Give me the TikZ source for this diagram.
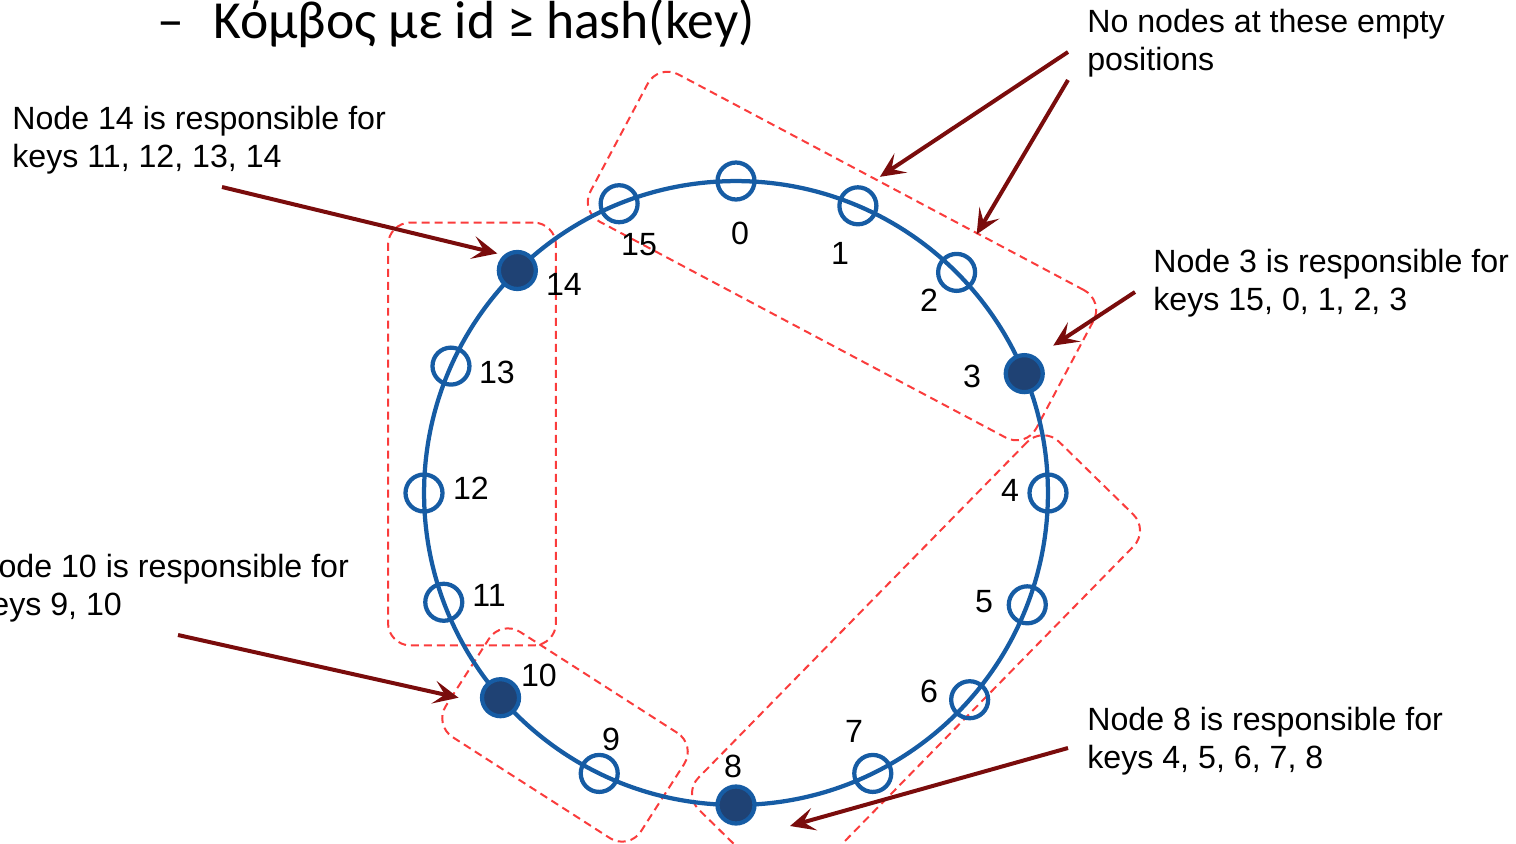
\documentclass[tikz,border=0pt]{standalone}
\usepackage{fontspec}
\setmainfont{Liberation Sans}
\newfontfamily\titlefont{Carlito}
\usetikzlibrary{arrows.meta,calc}

\definecolor{ringblue}{RGB}{22,92,164}
\definecolor{peerfill}{RGB}{31,66,116}
\definecolor{grpred}{RGB}{250,60,60}
\definecolor{arrred}{RGB}{122,12,12}
\newcommand{\notesize}{\fontsize{18.3}{21.6}\selectfont}

\tikzset{
  keypos/.style={circle, draw=ringblue, line width=0.085cm, minimum size=0.74cm, inner sep=0pt},
  peer/.style={keypos, fill=peerfill},
  keynum/.style={inner sep=0pt, font=\notesize},
  note/.style={anchor=north west, inner sep=0pt, align=left, font=\notesize},
  grpbox/.style={draw=grpred, line width=0.04cm, dash pattern=on 0.16cm off 0.1cm, rounded corners=0.45cm, inner sep=0pt},
  arr/.style={draw=arrred, line width=0.08cm, -{Stealth[length=0.5cm, width=0.46cm, inset=0.22cm]}}
}

\begin{document}
\begin{tikzpicture}[x=0.02cm, y=-0.02cm]
            \useasboundingbox (0,0) rectangle (1516,843);
            \clip (0,0) rectangle (1516,843);

            \node[anchor=base west, inner sep=0pt, font=\titlefont\fontsize{30.5}{36}\selectfont] (title) at (157,38) {–\hspace{0.6cm}Κόμβος με id ≥ hash(key)};

            \node[grpbox, minimum width=10.1cm, minimum height=3.34cm, rotate=-28] (grp3) at (842,256) {};
            \node[grpbox, minimum width=3.36cm, minimum height=8.46cm] (grp14) at (472,434) {};
            \node[grpbox, minimum width=4.64cm, minimum height=2.5cm, rotate=-32.7] (grp10) at (565,735) {};
            \node[grpbox, minimum width=10.3cm, minimum height=2.98cm, rotate=45.6] (grp8) at (916,662) {};

            \coordinate (ctr) at (736,493);
            \draw[ringblue, line width=0.085cm] (ctr) circle[radius=6.24cm];

            \foreach \i/\a in {0/-90,1/-67,2/-45,4/0,5/21,6/41.5,7/64,9/116,11/159.5,12/180,13/-156,15/-112}
                \node[keypos] (k\i) at ($(ctr)+(\a:312)$) {};
            \foreach \i/\a in {3/-22.5,8/90,10/139,14/-134.5}
                \node[peer] (k\i) at ($(ctr)+(\a:312)$) {};

            \foreach \i/\lx/\ly in {0/740/233,1/840/253,2/929/300,3/972/376,4/1010/490,5/984/602,6/929/691,7/854/731,8/733/766,9/611/739,10/539/675,11/489/595,12/471/488,13/497/372,14/564/284,15/639/245}
                \node[keynum] (n\i) at (\lx,\ly) {\i};

            \node[note] (note14) at (12,106) {Node 14 is responsible for\\keys 11, 12, 13, 14};
            \node[note] (noteempty) at (1087,9) {No nodes at these empty\\positions};
            \node[note] (note3) at (1153,249) {Node 3 is responsible for\\keys 15, 0, 1, 2, 3};
            \node[note] (note10) at (-25,554) {Node 10 is responsible for\\keys 9, 10};
            \node[note] (note8) at (1087,707) {Node 8 is responsible for\\keys 4, 5, 6, 7, 8};

            \coordinate (t14) at (222,187);
            \coordinate (t1) at (1068,52);
            \coordinate (t2) at (1068,80);
            \coordinate (t3) at (1135,292);
            \coordinate (t10) at (178,635);
            \coordinate (t8) at (1068,748);

            \draw[arr] (t14) -- ($(k14)+(-20,-17)$);
            \draw[arr] (t1) -- ($(k1)+(22,-29)$);
            \draw[arr] (t2) -- ($(k2)+(20,-38)$);
            \draw[arr] (t3) -- ($(k3)+(29,-28)$);
            \draw[arr] (t10) -- ($(k10)+(-42,0)$);
            \draw[arr] (t8) -- ($(k8)+(54,21)$);
        \end{tikzpicture}
\end{document}
